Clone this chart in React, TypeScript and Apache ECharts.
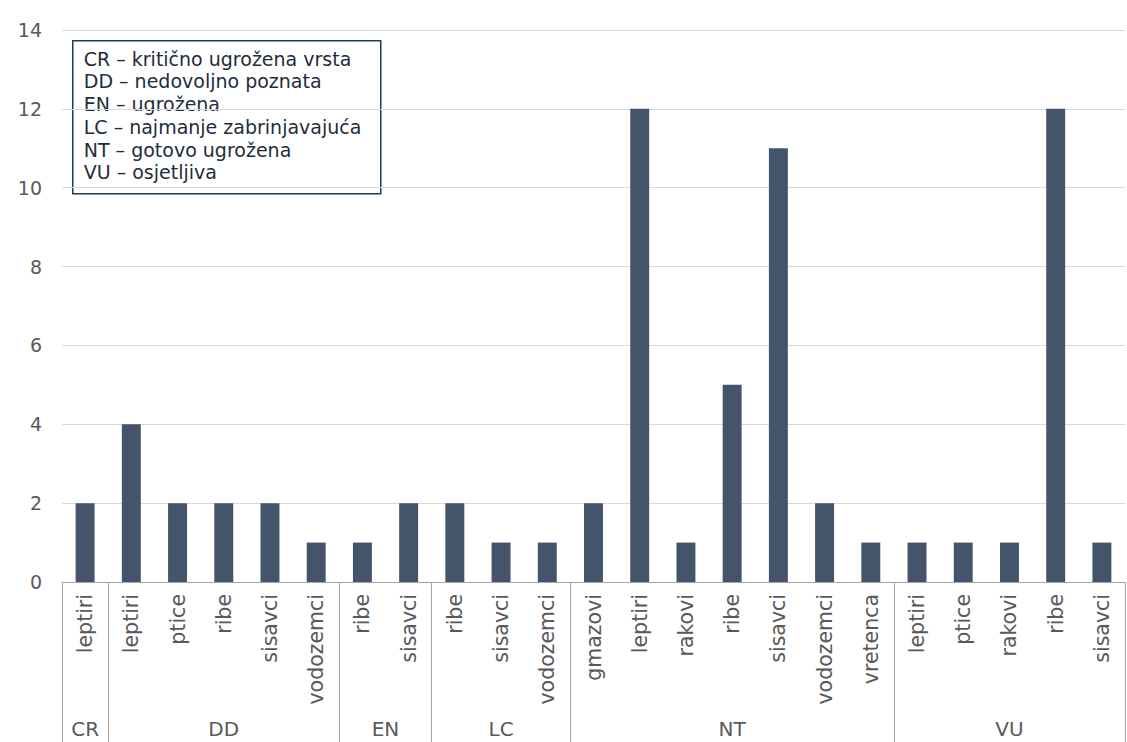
import React, { useEffect, useRef } from "react";
import * as echarts from "echarts";

// IUCN threat categories and the animal groups counted within each
const groups = ["CR", "DD", "EN", "LC", "NT", "VU"];

const crSpecies = ["leptiri"];
const crValues = [2];
const ddSpecies = ["leptiri", "ptice", "ribe", "sisavci", "vodozemci"];
const ddValues = [4, 2, 2, 2, 1];
const enSpecies = ["ribe", "sisavci"];
const enValues = [1, 2];
const lcSpecies = ["ribe", "sisavci", "vodozemci"];
const lcValues = [2, 1, 1];
const ntSpecies = ["gmazovi", "leptiri", "rakovi", "ribe", "sisavci", "vodozemci", "vretenca"];
const ntValues = [2, 12, 1, 5, 11, 2, 1];
const vuSpecies = ["leptiri", "ptice", "rakovi", "ribe", "sisavci"];
const vuValues = [1, 1, 1, 12, 1];

const legendLines = [
  "CR – kritično ugrožena vrsta",
  "DD – nedovoljno poznata",
  "EN – ugrožena",
  "LC – najmanje zabrinjavajuća",
  "NT – gotovo ugrožena",
  "VU – osjetljiva",
];

const yTicks = { min: 0, max: 14, interval: 2 };

const speciesByGroup = [crSpecies, ddSpecies, enSpecies, lcSpecies, ntSpecies, vuSpecies];
const valuesByGroup = [crValues, ddValues, enValues, lcValues, ntValues, vuValues];

export default function App() {
  const ref = useRef<HTMLDivElement>(null);

  useEffect(() => {
    document.body.style.margin = "0";
    if (!ref.current) return;
    const chart = echarts.init(ref.current, undefined, { renderer: "svg" });

    const categories: string[] = [];
    const values: number[] = [];
    const boundaries: number[] = [0];
    speciesByGroup.forEach((sp, gi) => {
      sp.forEach((s, i) => {
        categories.push(s);
        values.push(valuesByGroup[gi][i]);
      });
      boundaries.push(categories.length);
    });
    const total = categories.length;
    const centers = groups.map((_, i) => (boundaries[i] + boundaries[i + 1]) / 2);

    const font = "'DejaVu Sans', Verdana, sans-serif";
    const labelColor = "#595959";
    const lineColor = "#a6a6a6";

    chart.setOption({
      animation: false,
      grid: {
        left: 62,
        right: 2,
        top: 30,
        bottom: 160,
        containLabel: false,
        outerBoundsMode: "none",
      },
      xAxis: [
        {
          type: "category",
          data: categories,
          position: "bottom",
          axisLine: { show: true, onZero: false, lineStyle: { color: lineColor, width: 1 } },
          axisTick: { show: false },
          axisLabel: {
            rotate: 90,
            interval: 0,
            margin: 12,
            fontSize: 20.5,
            fontFamily: font,
            color: labelColor,
          },
        },
        {
          type: "value",
          min: 0,
          max: total,
          position: "bottom",
          offset: 160,
          axisLine: { show: false, onZero: false },
          splitLine: { show: false },
          axisTick: {
            show: true,
            inside: true,
            length: 160,
            customValues: boundaries,
            lineStyle: { color: lineColor, width: 1 },
          },
          axisLabel: {
            show: true,
            inside: true,
            margin: 3,
            customValues: centers,
            fontSize: 20,
            fontFamily: font,
            color: labelColor,
            formatter: (v: number) => {
              const idx = centers.findIndex((c) => Math.abs(c - v) < 1e-6);
              return idx >= 0 ? groups[idx] : "";
            },
          },
        },
      ],
      yAxis: {
        type: "value",
        min: yTicks.min,
        max: yTicks.max,
        interval: yTicks.interval,
        axisLine: { show: false },
        axisTick: { show: false },
        axisLabel: { fontSize: 19, fontFamily: font, color: labelColor, margin: 20 },
        splitLine: { lineStyle: { color: "#d9d9d9", width: 1 } },
      },
      series: [
        {
          type: "bar",
          xAxisIndex: 0,
          data: values,
          barCategoryGap: "59%",
          itemStyle: { color: "#44546a" },
        },
      ],
      graphic: [
        {
          type: "group",
          left: 72,
          top: 40,
          children: [
            {
              type: "rect",
              shape: { x: 0, y: 0, width: 308, height: 153 },
              style: { fill: "#ffffff", stroke: "#1f3a55", lineWidth: 1.5 },
            },
            ...legendLines.map((t, i) => ({
              type: "text",
              x: 11,
              y: 18 + i * 22.7,
              style: {
                text: t,
                fontSize: 19,
                fontFamily: font,
                fill: "#1e2d3c",
                verticalAlign: "middle",
                align: "left",
              },
            })),
          ],
        },
      ],
    });

    return () => chart.dispose();
  }, []);

  return <div ref={ref} style={{ width: 1127, height: 742 }} />;
}
